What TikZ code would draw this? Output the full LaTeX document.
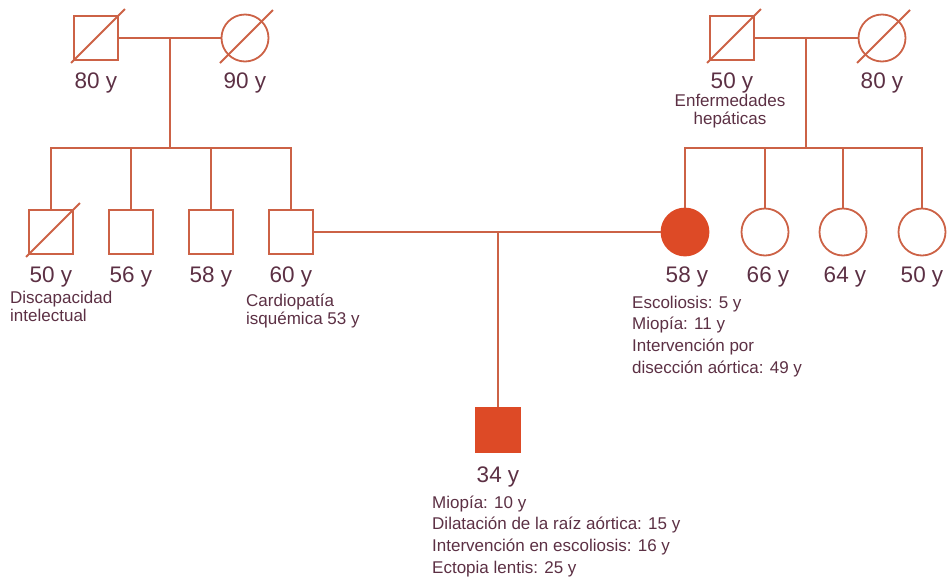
\documentclass[tikz,border=0pt]{standalone}
\usepackage{fontspec}
\setmainfont{Liberation Sans}
\usetikzlibrary{positioning, calc}
\definecolor{lineclr}{RGB}{204,98,70}
\definecolor{fillclr}{RGB}{221,74,38}
\definecolor{textclr}{RGB}{92,48,68}

\begin{document}
\begin{tikzpicture}[
  x=1pt, y=-1pt,
  line/.style={draw=lineclr, line width=1.8pt},
  male/.style={line, rectangle, minimum size=44pt, inner sep=0pt},
  female/.style={line, circle, minimum size=47pt, inner sep=0pt},
  affected/.style={fill=fillclr, draw=fillclr},
  age/.style={text=textclr, inner sep=0pt, font=\fontsize{22.5}{27}\selectfont},
  note/.style={text=textclr, inner sep=0pt, align=left, anchor=north west, font=\fontsize{17}{18}\selectfont},
  longnote/.style={note, font=\fontsize{17}{21.7}\selectfont}
]
\useasboundingbox (0,0) rectangle (948,579);

% --- father's parents ---
\node[male] (gf1) at (96,38) {};
\node[female] (gm1) at (245,38) {};
\node[age, below=12pt of gf1] (agf1) {80 y};
\node[age, below=10.5pt of gm1] (agm1) {90 y};

% --- mother's parents ---
\node[male] (gf2) at (732,38) {};
\node[female] (gm2) at (882,38) {};
\node[age, below=12pt of gf2] (agf2) {50 y};
\node[age, below=10.5pt of gm2] (agm2) {80 y};
\node[note, align=center, anchor=north] (ngf2) at (730,94) {Enfermedades\\hepáticas};

% --- father and his brothers ---
\node[male] (u1) at (51,232) {};
\node[male] (u2) at (131,232) {};
\node[male] (u3) at (211,232) {};
\node[male] (fa) at (291,232) {};
\node[age, below=12pt of u1] (au1) {50 y};
\node[age, below=12pt of u2] (au2) {56 y};
\node[age, below=12pt of u3] (au3) {58 y};
\node[age, below=12pt of fa] (afa) {60 y};
\node[note] (nu1) at (10,291) {Discapacidad\\intelectual};
\node[note] (nfa) at (246,294) {Cardiopatía\\isquémica 53 y};

% --- mother and her sisters ---
\node[female, affected] (mo) at (685,232) {};
\node[female] (a1) at (765,232) {};
\node[female] (a2) at (843,232) {};
\node[female] (a3) at (922,232) {};
\node[age, below=10.5pt of mo, xshift=2pt] (amo) {58 y};
\node[age, below=10.5pt of a1, xshift=3pt] (aa1) {66 y};
\node[age, below=10.5pt of a2, xshift=2pt] (aa2) {64 y};
\node[age, below=10.5pt of a3] (aa3) {50 y};
\node[longnote] (nmo) at (632,295.5) {Escoliosis: 5 y\\Miopía: 11 y\\Intervención por\\disección aórtica: 49 y};

% --- index case ---
\node[male, affected] (son) at (498,430) {};
\node[age, below=14pt of son] (ason) {34 y};
\node[longnote] (nson) at (432,495.5) {Miopía: 10 y\\Dilatación de la raíz aórtica: 15 y\\Intervención en escoliosis: 16 y\\Ectopia lentis: 25 y};

% deceased
\foreach \n in {gf1,gf2,u1}
  \draw[line] ($(\n.south west)+(-2,2)$) -- ($(\n.north east)+(6,-6)$);
\foreach \n in {gm1,gm2}
  \draw[line] ($(\n.center)+(-25,25)$) -- ($(\n.center)+(28,-28)$);

% couples and descent lines
\draw[line] (gf1) -- (gm1);
\coordinate (c1) at ($(gf1.east)!0.5!(gm1.west)$);
\coordinate (s1) at ($(c1)+(0,110)$);
\draw[line] (c1) -- (s1);
\draw[line] (u1.north) |- (fa.north |- s1) -- (fa.north);
\foreach \n in {u2,u3}
  \draw[line] (\n.north |- s1) -- (\n.north);

\draw[line] (gf2) -- (gm2);
\coordinate (c2) at ($(gf2.east)!0.5!(gm2.west)$);
\coordinate (s2) at ($(c2)+(0,110)$);
\draw[line] (c2) -- (s2);
\draw[line] (mo.north) |- (a3.north |- s2) -- (a3.north);
\foreach \n in {a1,a2}
  \draw[line] (\n.north |- s2) -- (\n.north);

\draw[line] (fa) -- (mo);
\coordinate (m) at (son.north |- fa.east);
\draw[line] (m) -- (son);
\end{tikzpicture}
\end{document}
